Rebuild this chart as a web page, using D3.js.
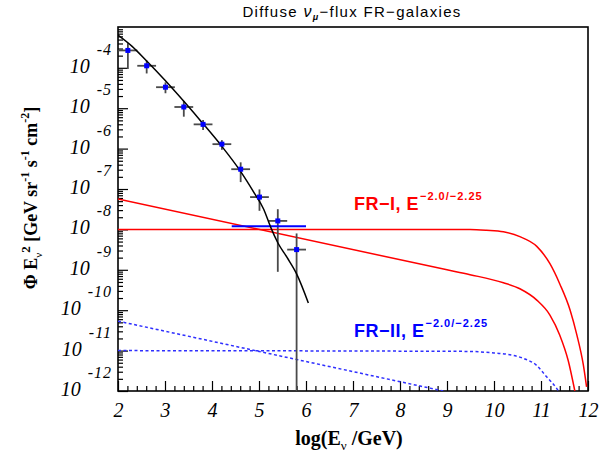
<!DOCTYPE html>
<html>
<head>
<meta charset="utf-8">
<script src="https://cdn.jsdelivr.net/npm/d3@7"></script>
<style>
  body { margin: 0; background: #fff; }
  svg { display: block; }
</style>
</head>
<body>
<svg id="chart"></svg>
<script>
// ---- data (log10 E in GeV, log10 of flux * E^2) ----
const xTickValues = [2, 3, 4, 5, 6, 7, 8, 9, 10, 11, 12];
const yDecades = [-12, -11, -10, -9, -8, -7, -6, -5, -4];

// measured points with errors
const pointLogE = [2.21, 2.61, 3.01, 3.40, 3.81, 4.21, 4.61, 5.01, 5.40, 5.80];
const pointLogFlux = [-3.57, -3.95, -4.48, -4.97, -5.40, -5.89, -6.51, -7.20, -7.79, -8.50];
const pointErrHigh = [-3.39, -3.82, -4.36, -4.82, -5.29, -5.79, -6.34, -7.01, -7.50, -8.10];
const pointErrLow = [-4.03, -4.14, -4.63, -5.21, -5.54, -6.03, -6.83, -7.54, -9.05, -13.0];
const pointBinHalfWidth = 0.2;

// atmospheric fit curve
const atmLogE = [2.0, 2.3, 2.6, 3.0, 3.4, 3.8, 4.2, 4.6, 4.9, 5.1, 5.25, 5.4, 5.6, 5.8, 6.05];
const atmLogFlux = [-3.19, -3.47, -3.82, -4.31, -4.83, -5.37, -5.93, -6.55, -7.10, -7.50, -7.95, -8.33, -8.70, -9.10, -9.82];

// upper limit
const limitLogE = [4.42, 6.0];
const limitLogFlux = [-7.92, -7.92];

// FR-I, E^-2.0
const fr1FlatLogE = [2.0, 9.49, 9.84, 10.20, 10.55, 10.91, 11.19, 11.40, 11.62, 11.76, 11.90, 11.97];
const fr1FlatLogFlux = [-8.0, -8.0, -8.02, -8.06, -8.18, -8.42, -8.85, -9.35, -10.0, -10.6, -11.35, -11.9];
// FR-I, E^-2.25
const fr1SteepLogE = [2.0, 9.0, 9.49, 10.20, 10.55, 10.91, 11.19, 11.40, 11.58, 11.72];
const fr1SteepLogFlux = [-7.25, -9.0, -9.12, -9.32, -9.47, -9.75, -10.12, -10.62, -11.25, -12.0];

// FR-II, E^-2.0
const fr2FlatLogE = [2.0, 9.5, 9.91, 10.27, 10.62, 10.91, 11.12, 11.33, 11.37];
const fr2FlatLogFlux = [-11.0, -11.02, -11.05, -11.09, -11.19, -11.37, -11.65, -11.93, -12.0];
// FR-II, E^-2.25
const fr2SteepLogE = [2.0, 8.92];
const fr2SteepLogFlux = [-10.27, -12.0];

// ---- layout ----
const width = 613, height = 455;
const plot = { left: 118, top: 27, right: 588, bottom: 391 };

const svg = d3.select('#chart')
    .attr('width', width)
    .attr('height', height);

const x = d3.scaleLinear().domain([2, 12]).range([plot.left, plot.right]);
const y = d3.scaleLog().domain([1e-12, Math.pow(10, -2.99)]).range([plot.bottom, plot.top]);

const serif = '"Liberation Serif", "Times New Roman", serif';
const sans = '"Liberation Sans", Arial, Helvetica, sans-serif';

svg.append('defs').append('clipPath')
    .attr('id', 'plotClip')
    .append('rect')
    .attr('x', plot.left)
    .attr('y', plot.top)
    .attr('width', plot.right - plot.left)
    .attr('height', plot.bottom - plot.top);

// ---- axes ----
const minorX = d3.range(2, 12.001, 0.2).filter(v => Math.abs(v - Math.round(v)) > 1e-6);

svg.append('g')
    .attr('transform', `translate(0,${plot.bottom})`)
    .call(d3.axisBottom(x).tickValues(minorX).tickSize(-5).tickFormat(''))
    .call(g => g.select('.domain').remove());

const xAxis = svg.append('g')
    .attr('transform', `translate(0,${plot.bottom})`)
    .call(d3.axisBottom(x).tickValues(xTickValues).tickSize(-10).tickPadding(12).tickFormat(d3.format('d')));
xAxis.select('.domain').remove();
xAxis.selectAll('text')
    .attr('font-family', serif)
    .attr('font-style', 'italic')
    .attr('font-size', 20)
    .attr('fill', '#000');

const minorY = [];
yDecades.concat([-3]).forEach(d => {
    for (let k = 2; k <= 9; k++) {
        const v = k * Math.pow(10, d);
        if (v <= y.domain()[1]) minorY.push(v);
    }
});

svg.append('g')
    .attr('transform', `translate(${plot.left},0)`)
    .call(d3.axisLeft(y).tickValues(minorY).tickSize(-5).tickFormat(''))
    .call(g => g.select('.domain').remove());

svg.append('g')
    .attr('transform', `translate(${plot.left},0)`)
    .call(d3.axisLeft(y).tickValues(yDecades.map(d => Math.pow(10, d))).tickSize(-10).tickFormat(''))
    .call(g => g.select('.domain').remove());

svg.selectAll('.tick line').attr('stroke', '#000').attr('stroke-width', 1.2);

// y tick labels: 10 with exponent
const yLabels = svg.append('g');
yDecades.forEach(d => {
    const t = yLabels.append('text')
        .attr('x', 112)
        .attr('y', y(Math.pow(10, d)) + 5)
        .attr('text-anchor', 'end')
        .attr('font-family', serif)
        .attr('font-style', 'italic')
        .attr('fill', '#000');
    t.append('tspan').attr('font-size', 20).text('10');
    t.append('tspan').attr('font-size', 16).attr('letter-spacing', 1).attr('dx', 7).attr('dy', -18).text(String(d));
});

// frame
svg.append('rect')
    .attr('x', plot.left)
    .attr('y', plot.top)
    .attr('width', plot.right - plot.left)
    .attr('height', plot.bottom - plot.top)
    .attr('fill', 'none')
    .attr('stroke', '#000')
    .attr('stroke-width', 1.6);

// ---- curves ----
const line = d3.line()
    .x(d => x(d[0]))
    .y(d => y(Math.pow(10, d[1])))
    .curve(d3.curveMonotoneX);

const curves = svg.append('g').attr('clip-path', 'url(#plotClip)');

function drawCurve(es, fs, color, dash, w) {
    curves.append('path')
        .datum(es.map((e, i) => [e, fs[i]]))
        .attr('d', line)
        .attr('fill', 'none')
        .attr('stroke', color)
        .attr('stroke-width', w)
        .attr('stroke-dasharray', dash);
}

drawCurve(fr2FlatLogE, fr2FlatLogFlux, '#2f2fff', '3,2.5', 1.5);
drawCurve(fr2SteepLogE, fr2SteepLogFlux, '#2f2fff', '3,2.5', 1.5);
drawCurve(fr1FlatLogE, fr1FlatLogFlux, '#ff0000', null, 1.5);
drawCurve(fr1SteepLogE, fr1SteepLogFlux, '#ff0000', null, 1.5);

// error bars
const points = pointLogE.map((e, i) => ({
    e, f: pointLogFlux[i], hi: pointErrHigh[i], lo: pointErrLow[i]
}));

curves.selectAll('.ex')
    .data(points)
    .enter()
    .append('line')
    .attr('x1', d => x(d.e - pointBinHalfWidth))
    .attr('x2', d => x(d.e + pointBinHalfWidth))
    .attr('y1', d => y(Math.pow(10, d.f)))
    .attr('y2', d => y(Math.pow(10, d.f)))
    .attr('stroke', '#4a4a4a')
    .attr('stroke-width', 1.8);

curves.selectAll('.ey')
    .data(points)
    .enter()
    .append('line')
    .attr('x1', d => x(d.e))
    .attr('x2', d => x(d.e))
    .attr('y1', d => y(Math.pow(10, d.hi)))
    .attr('y2', d => y(Math.pow(10, d.lo)))
    .attr('stroke', '#4a4a4a')
    .attr('stroke-width', 1.8);

// limit line
drawCurve(limitLogE, limitLogFlux, '#0000ff', null, 2);

// atmospheric fit
drawCurve(atmLogE, atmLogFlux, '#000', null, 1.5);

// markers
curves.selectAll('.pt')
    .data(points)
    .enter()
    .append('rect')
    .attr('x', d => x(d.e) - 2.5)
    .attr('y', d => y(Math.pow(10, d.f)) - 2.5)
    .attr('width', 5)
    .attr('height', 5)
    .attr('fill', '#0000ff');

// ---- texts ----
const title = svg.append('text')
    .attr('x', 352)
    .attr('y', 17)
    .attr('text-anchor', 'middle')
    .attr('font-family', sans)
    .attr('font-size', 15)
    .attr('letter-spacing', 1.3)
    .attr('fill', '#000');
title.append('tspan').text('Diffuse ');
title.append('tspan').attr('font-style', 'italic').attr('font-size', 16).text('ν');
title.append('tspan').attr('font-size', 9).attr('font-weight', 'bold').attr('font-style', 'italic').attr('dy', 3).text('μ');
title.append('tspan').attr('dy', -3).text('−flux FR−galaxies');

const xTitle = svg.append('text')
    .attr('x', 349)
    .attr('y', 445)
    .attr('text-anchor', 'middle')
    .attr('font-family', serif)
    .attr('font-weight', 'bold')
    .attr('font-size', 20)
    .attr('fill', '#000');
xTitle.append('tspan').text('log(E');
xTitle.append('tspan').attr('font-size', 13).attr('font-weight', 'normal').attr('dy', 5).text('ν');
xTitle.append('tspan').attr('dy', -5).text(' /GeV)');

const yTitle = svg.append('text')
    .attr('transform', 'translate(37,198) rotate(-90)')
    .attr('text-anchor', 'middle')
    .attr('font-family', serif)
    .attr('font-weight', 'bold')
    .attr('font-size', 18)
    .attr('fill', '#000');
yTitle.append('tspan').text('Φ E');
yTitle.append('tspan').attr('font-size', 11).attr('font-weight', 'normal').attr('dy', 5).text('ν');
yTitle.append('tspan').attr('dy', -12).attr('font-size', 13).text('2');
yTitle.append('tspan').attr('dy', 7).text(' [GeV sr');
yTitle.append('tspan').attr('dy', -8).attr('font-size', 12).text('-1');
yTitle.append('tspan').attr('dy', 8).text(' s');
yTitle.append('tspan').attr('dy', -8).attr('font-size', 12).text('-1');
yTitle.append('tspan').attr('dy', 8).text(' cm');
yTitle.append('tspan').attr('dy', -8).attr('font-size', 12).text('-2');
yTitle.append('tspan').attr('dy', 8).text(']');

function annotate(label, px, py, color) {
    const t = svg.append('text')
        .attr('x', px)
        .attr('y', py)
        .attr('font-family', sans)
        .attr('font-weight', 'bold')
        .attr('font-size', 18)
        .attr('letter-spacing', 0.5)
        .attr('fill', color);
    t.append('tspan').text(label + ', E');
    t.append('tspan').attr('font-size', 11).attr('letter-spacing', 1).attr('dy', -10).attr('dx', 1).text('−2.0/−2.25');
}

annotate('FR−I', 354, 210, '#ff0000');
annotate('FR−II', 354, 337, '#0000ff');
</script>
</body>
</html>
